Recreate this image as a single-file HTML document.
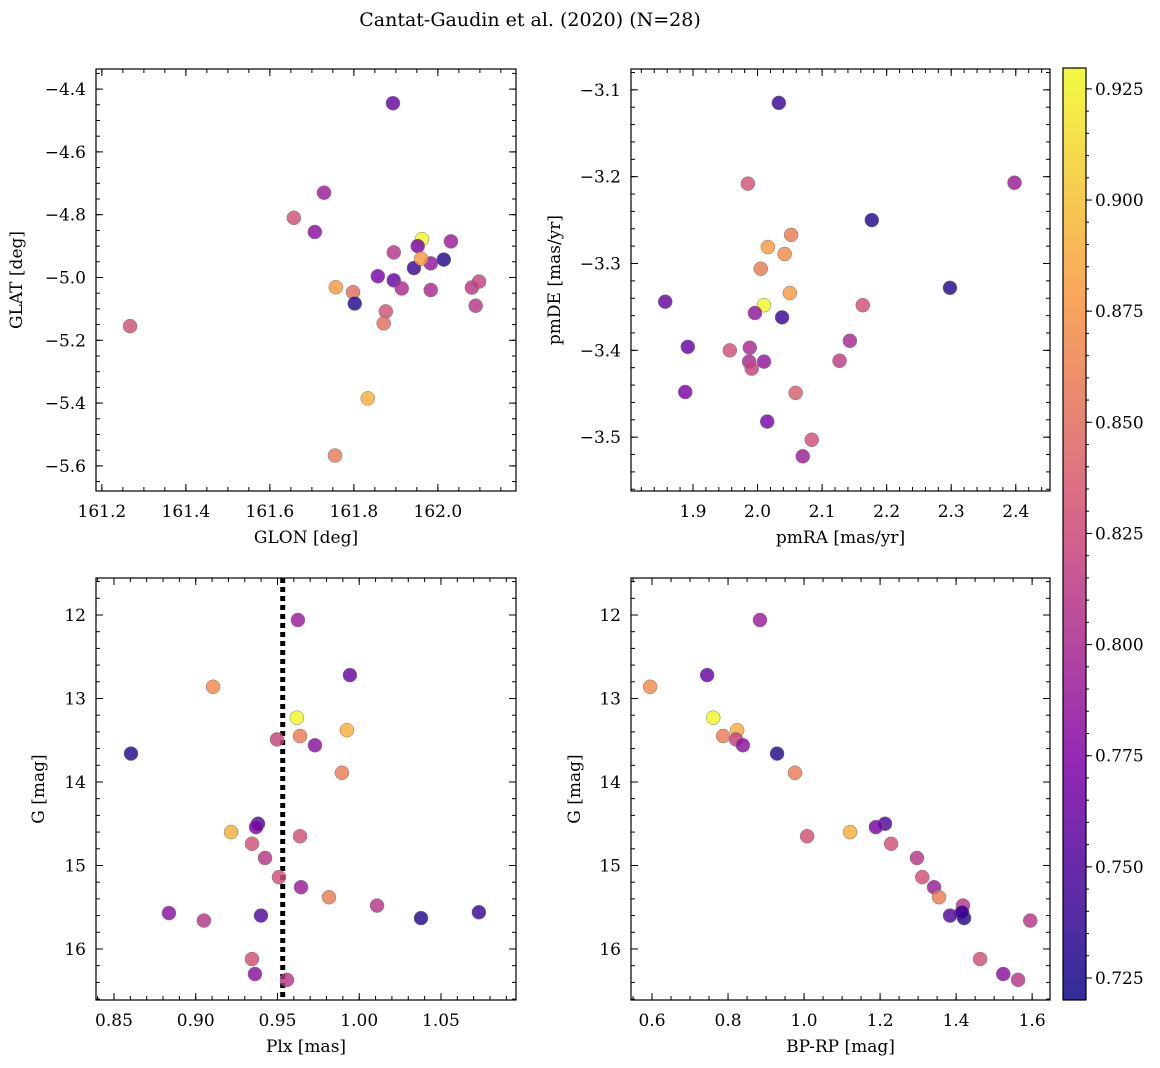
<!DOCTYPE html>
<html><head><meta charset="utf-8">
<style>
body{margin:0;background:#fff;}
svg{display:block;font-family:"DejaVu Serif","Liberation Serif",serif;}
</style></head>
<body>
<svg id="fig" width="1160" height="1068" viewBox="0 0 1160 1068" xmlns="http://www.w3.org/2000/svg">
<defs>
<linearGradient id="cmap" x1="0" y1="1" x2="0" y2="0">
<stop offset="0" stop-color="rgb(13,8,135)"/>
<stop offset="0.25" stop-color="rgb(126,3,168)"/>
<stop offset="0.5" stop-color="rgb(204,71,120)"/>
<stop offset="0.75" stop-color="rgb(248,149,64)"/>
<stop offset="1" stop-color="rgb(240,249,33)"/>
</linearGradient>
</defs>
<text x="530" y="26" font-size="19" text-anchor="middle">Cantat-Gaudin et al. (2020) (N=28)</text>
</svg>
<script>
// Panel 1: GLON / GLAT
const glon=[161.893,161.729,161.657,161.707,161.962,161.952,161.895,162.031,161.983,162.014,161.943,161.857,161.895,161.757,161.798,161.914,161.983,162.081,162.098,161.802,162.090,161.267,161.876,161.871,161.833,161.755,161.960];
const glat=[-4.445,-4.73,-4.81,-4.855,-4.878,-4.90,-4.92,-4.885,-4.955,-4.943,-4.97,-4.996,-5.009,-5.031,-5.047,-5.035,-5.04,-5.032,-5.013,-5.083,-5.09,-5.155,-5.108,-5.146,-5.385,-5.567,-4.94];
const posColor=[0.76,0.79,0.83,0.78,0.93,0.77,0.81,0.79,0.785,0.73,0.74,0.77,0.76,0.88,0.85,0.80,0.80,0.81,0.82,0.73,0.81,0.83,0.83,0.85,0.89,0.86,0.88];
// Panel 2: proper motions
const pmra=[2.033,2.398,1.985,2.177,2.052,2.016,2.042,2.005,2.298,2.05,1.857,2.01,2.163,1.996,2.038,2.143,1.892,1.988,1.957,2.127,1.987,2.01,1.991,1.888,2.059,2.015,2.084,2.07];
const pmde=[-3.115,-3.207,-3.208,-3.25,-3.267,-3.281,-3.289,-3.306,-3.328,-3.334,-3.344,-3.348,-3.348,-3.357,-3.362,-3.389,-3.396,-3.397,-3.40,-3.412,-3.413,-3.413,-3.421,-3.448,-3.449,-3.482,-3.503,-3.522];
const pmColor=[0.74,0.79,0.83,0.73,0.86,0.88,0.87,0.86,0.73,0.88,0.76,0.93,0.83,0.785,0.74,0.80,0.76,0.80,0.83,0.815,0.80,0.785,0.82,0.77,0.84,0.77,0.83,0.79];
// Panels 3 & 4: photometry
const plx=[0.9625,0.9106,0.9943,0.9619,0.9638,0.9925,0.9497,0.9729,0.8604,0.9894,0.9216,0.9381,0.9369,0.9638,0.9344,0.9424,0.9509,0.9644,0.9815,1.0109,0.8836,0.9050,0.9399,1.0378,1.0732,0.9344,0.9362,0.9558];
const gmag=[12.06,12.86,12.72,13.23,13.45,13.38,13.49,13.56,13.66,13.89,14.60,14.50,14.54,14.65,14.74,14.91,15.14,15.26,15.38,15.48,15.57,15.66,15.60,15.63,15.56,16.12,16.30,16.37];
const bprp=[0.884,0.595,0.745,0.761,0.787,0.824,0.821,0.839,0.929,0.976,1.121,1.213,1.189,1.008,1.229,1.297,1.311,1.342,1.355,1.418,1.413,1.595,1.384,1.421,1.416,1.463,1.524,1.563];
const photColor=[0.79,0.87,0.76,0.93,0.86,0.89,0.82,0.78,0.73,0.86,0.89,0.75,0.77,0.83,0.83,0.81,0.83,0.79,0.86,0.81,0.78,0.81,0.75,0.73,0.74,0.83,0.78,0.81];
const plxLine=0.9532;
const cbTicks=[0.725,0.750,0.775,0.800,0.825,0.850,0.875,0.900,0.925];

const NS="http://www.w3.org/2000/svg";
const svg=document.getElementById('fig');
function el(tag,attrs,parent){const e=document.createElementNS(NS,tag);for(const k in attrs)e.setAttribute(k,attrs[k]);(parent||svg).appendChild(e);return e;}
const stops=[[13,8,135],[126,3,168],[204,71,120],[248,149,64],[240,249,33]];
const cmin=0.72005,cmax=0.9297;
function cmap(v){let t=(v-cmin)/(cmax-cmin);t=Math.max(0,Math.min(1,t));const s=t*4,i=Math.min(3,Math.floor(s)),f=s-i;const a=stops[i],b=stops[i+1];return `rgb(${Math.round(a[0]+(b[0]-a[0])*f)},${Math.round(a[1]+(b[1]-a[1])*f)},${Math.round(a[2]+(b[2]-a[2])*f)})`;}
function fmt(v,d){return (v<0?'\u2212':'')+Math.abs(v).toFixed(d);}

function panel(o){
  const g=el('g',{});
  
  
  const sx=v=>o.x0+(v-o.xmin)/(o.xmax-o.xmin)*(o.x1-o.x0);
  const sy=o.yinv?(v=>o.y0+(v-o.ymin)/(o.ymax-o.ymin)*(o.y1-o.y0)):(v=>o.y1-(v-o.ymin)/(o.ymax-o.ymin)*(o.y1-o.y0));
  function ticks(min,max,step,len,isX,labels,dec){
    const n0=Math.ceil(min/step-1e-6),n1=Math.floor(max/step+1e-6);
    for(let n=n0;n<=n1;n++){const v=n*step;
      if(isX){const x=sx(v);el('line',{x1:x,x2:x,y1:o.y1,y2:o.y1-len,stroke:'#000','stroke-width':1},g);el('line',{x1:x,x2:x,y1:o.y0,y2:o.y0+len,stroke:'#000','stroke-width':1},g);
        if(labels){const t=el('text',{x:x,y:o.y1+26,'font-size':17,'text-anchor':'middle'},g);t.textContent=fmt(v,dec);}}
      else{const y=sy(v);el('line',{x1:o.x0,x2:o.x0+len,y1:y,y2:y,stroke:'#000','stroke-width':1},g);el('line',{x1:o.x1,x2:o.x1-len,y1:y,y2:y,stroke:'#000','stroke-width':1},g);
        if(labels){const t=el('text',{x:o.x0-10,y:y+6,'font-size':17,'text-anchor':'end'},g);t.textContent=fmt(v,dec);}}
    }
  }
  ticks(o.xmin,o.xmax,o.xmaj,7,true,true,o.xdec);
  ticks(o.xmin,o.xmax,o.xmin_,4,true,false);
  ticks(Math.min(o.ymin,o.ymax),Math.max(o.ymin,o.ymax),o.ymaj,7,false,true,o.ydec);
  ticks(Math.min(o.ymin,o.ymax),Math.max(o.ymin,o.ymax),o.ymin_,4,false,false);
  if(o.vline!==undefined){const l=el('line',{x1:sx(o.vline),x2:sx(o.vline),y1:o.y0,y2:o.y1,stroke:'#000','stroke-width':5,'stroke-dasharray':'5,4'},g);}
  for(let i=0;i<o.xs.length;i++){
    const c=el('circle',{cx:sx(o.xs[i]),cy:sy(o.ys[i]),r:7,fill:cmap(o.cs[i]),'fill-opacity':0.82,stroke:'#777','stroke-width':0.5},g);
    
    
  }
  const r=el('rect',{x:o.x0,y:o.y0,width:o.x1-o.x0,height:o.y1-o.y0,fill:'none',stroke:'#000','stroke-width':1.2},g);
  
  const xl=el('text',{x:(o.x0+o.x1)/2,y:o.y1+52,'font-size':17,'text-anchor':'middle'},g);xl.textContent=o.xlabel;
  
  const yc=(o.y0+o.y1)/2,yx=o.ylx;
  const yl=el('text',{x:yx,y:yc,'font-size':17,'text-anchor':'middle',transform:`rotate(-90 ${yx} ${yc})`},g);yl.textContent=o.ylabel;
  
}
panel({name:'glon-glat-panel',x0:96,x1:516,y0:69,y1:491,xmin:161.186,xmax:162.186,ymin:-5.680,ymax:-4.336,xmaj:0.2,xmin_:0.05,ymaj:0.2,ymin_:0.05,xdec:1,ydec:1,xs:glon,ys:glat,cs:posColor,xlabel:'GLON [deg]',ylabel:'GLAT [deg]',ylx:22});
panel({name:'proper-motion-panel',x0:631,x1:1050,y0:69,y1:491,xmin:1.804,xmax:2.453,ymin:-3.562,ymax:-3.076,xmaj:0.1,xmin_:0.02,ymaj:0.1,ymin_:0.02,xdec:1,ydec:1,xs:pmra,ys:pmde,cs:pmColor,xlabel:'pmRA [mas/yr]',ylabel:'pmDE [mas/yr]',ylx:560});
panel({name:'parallax-magnitude-panel',x0:96,x1:516,y0:578,y1:1000,xmin:0.839,xmax:1.0959,ymin:11.557,ymax:16.611,yinv:true,xmaj:0.05,xmin_:0.01,ymaj:1,ymin_:0.2,xdec:2,ydec:0,xs:plx,ys:gmag,cs:photColor,xlabel:'Plx [mas]',ylabel:'G [mag]',ylx:44,vline:plxLine});
panel({name:'color-magnitude-panel',x0:631,x1:1050,y0:578,y1:1000,xmin:0.5447,xmax:1.647,ymin:11.557,ymax:16.611,yinv:true,xmaj:0.2,xmin_:0.05,ymaj:1,ymin_:0.2,xdec:1,ydec:0,xs:bprp,ys:gmag,cs:photColor,xlabel:'BP-RP [mag]',ylabel:'G [mag]',ylx:580});
// colorbar
const cb=el('g',{});


const cx0=1063,cx1=1086,cy0=68,cy1=1000;
el('rect',{x:cx0,y:cy0,width:cx1-cx0,height:cy1-cy0,fill:'url(#cmap)','fill-opacity':0.85},cb);
el('rect',{x:cx0,y:cy0,width:cx1-cx0,height:cy1-cy0,fill:'none',stroke:'#000','stroke-width':1.2},cb);
const cy=v=>cy1-(v-cmin)/(cmax-cmin)*(cy1-cy0);
for(let n=Math.ceil(cmin/0.005);n<=Math.floor(cmax/0.005);n++){const y=cy(n*0.005);el('line',{x1:cx1,x2:cx1+3,y1:y,y2:y,stroke:'#000','stroke-width':1},cb);}
for(const v of cbTicks){const y=cy(v);el('line',{x1:cx1,x2:cx1+6,y1:y,y2:y,stroke:'#000','stroke-width':1},cb);
  const t=el('text',{x:cx1+9,y:y+6,'font-size':17},cb);t.textContent=v.toFixed(3);
  
  }
</script>
</body></html>
